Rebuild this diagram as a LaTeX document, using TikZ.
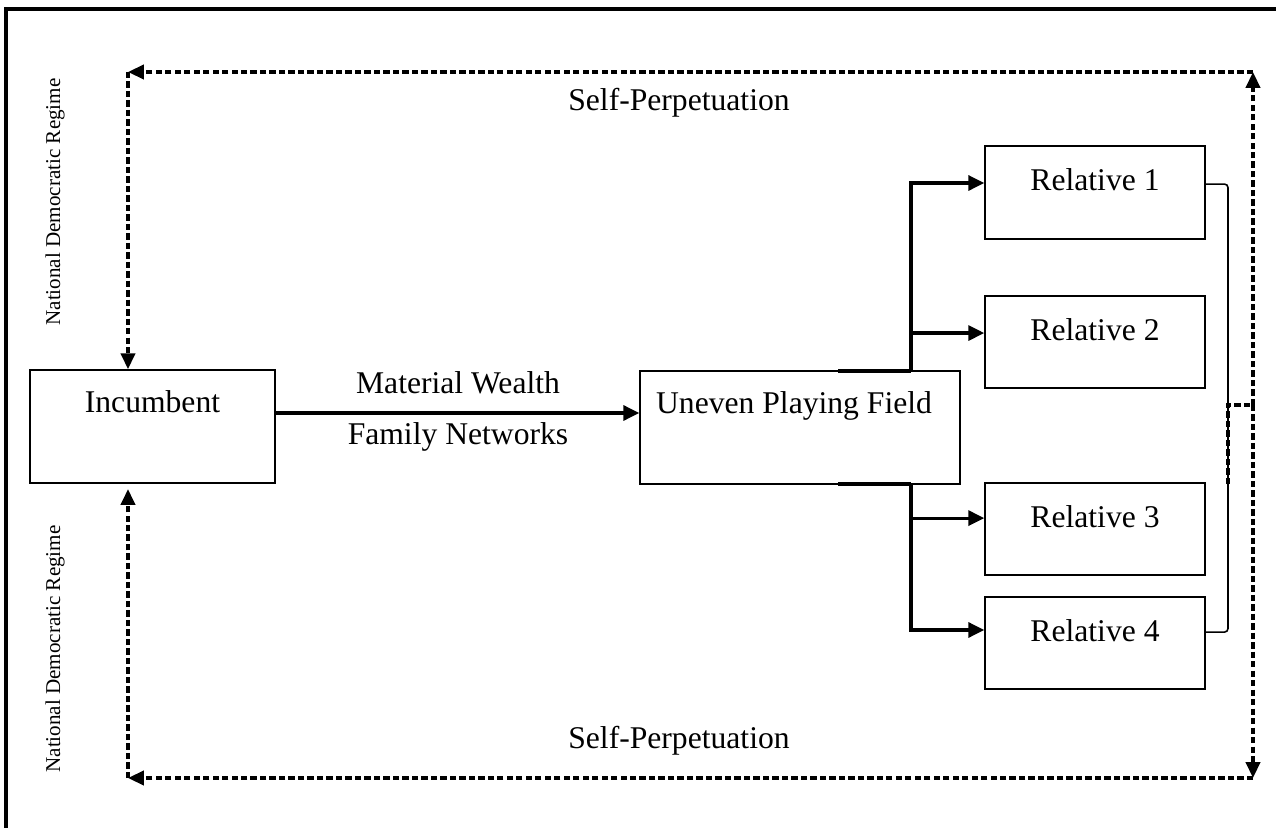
\documentclass[tikz,border=0pt]{standalone}
\usepackage{fontspec}
\setmainfont{Liberation Serif}
\usetikzlibrary{positioning,arrows.meta}

\begin{document}
\begin{tikzpicture}[
    x=0.02cm, y=-0.02cm,
    box/.style={draw, line width=0.9pt, inner sep=0pt}, % caixas
    relbox/.style={box, minimum width=4.4cm, minimum height=1.85cm}, % parentes
    txt/.style={inner sep=0pt, font=\fontsize{18}{22}\selectfont}, % textos
    side/.style={inner sep=0pt, font=\fontsize{12}{14}\selectfont, rotate=90}, % texto lateral
    flow/.style={line width=1.8pt, -{Triangle[length=9pt,width=8.5pt]}}, % setas cheias
    feedback/.style={line width=2pt, dash pattern=on 3.6pt off 1.8pt, -{Triangle[length=9pt,width=8pt]}}, % setas tracejadas
    bracket/.style={line width=0.9pt, rounded corners=2pt}
]
\useasboundingbox (0,0) rectangle (1276,828);
\draw[line width=2pt] (6,828) -- (6,9) -- (1276,9);

% caixas
\node[box, minimum width=4.9cm, minimum height=2.26cm] (inc) at (152.5,426.5) {};
\node[box, minimum width=6.4cm, minimum height=2.26cm] (upf) at (800,427.5) {};
\node[relbox] (r1) at (1095,192.5) {};
\node[relbox] (r2) at (1095,342) {};
\node[relbox] (r3) at (1095,529) {};
\node[relbox] (r4) at (1095,643) {};

\node[txt, below=12pt of inc.north] (inc text) {Incumbent};
\node[txt, below=12pt of upf.north, xshift=-3.4pt] (upf text) {Uneven Playing Field};
\node[txt, below=13pt of r1.north] (r1 text) {Relative 1};
\node[txt, below=13pt of r2.north] (r2 text) {Relative 2};
\node[txt, below=13pt of r3.north] (r3 text) {Relative 3};
\node[txt, below=13pt of r4.north] (r4 text) {Relative 4};

% seta principal
\coordinate (wire) at (458,413);
\draw[flow] (inc.east |- wire) -- (upf.west |- wire);
\node[txt] (wealth) at (458,383) {Material Wealth};
\node[txt] (networks) at (458,437) {Family Networks};

% ramos para os parentes
\coordinate (tap top) at (838,371);
\coordinate (fork top) at (911,371);
\coordinate (tap bot) at (838,484);
\coordinate (fork bot) at (911,484);
\draw[line width=1.8pt] (tap top) -- (fork top);
\draw[line width=1.8pt] (tap bot) -- (fork bot);
\draw[flow] (fork top) |- ([yshift=5.4pt]r1.west);
\draw[flow] (fork top) |- ([yshift=5.1pt]r2.west);
\draw[flow] (fork bot) |- ([yshift=6.2pt]r3.west);
\draw[flow] (fork bot) |- ([yshift=7.4pt]r4.west);

% chave dos parentes
\coordinate (brace) at (1228,405);
\coordinate (brace low) at (1228,484);
\coordinate (loop mid) at (1253,405);
\draw[bracket] ([yshift=4.8pt]r1.east) -| (brace) |- ([yshift=6.2pt]r4.east);
\draw[feedback, -] (brace low) -- (brace) -- (loop mid);

% ciclos tracejados
\coordinate (ne) at (1253,72);
\coordinate (nw) at (128,72);
\coordinate (se) at (1253,778);
\coordinate (sw) at (128,778);
\draw[feedback] (loop mid) -- (ne);
\draw[feedback] (ne) -- (nw);
\draw[feedback] (nw) -- (inc.north -| nw);
\draw[feedback] (loop mid) -- (se);
\draw[feedback] (se) -- (sw);
\draw[feedback] (sw) -- ([yshift=-3pt]inc.south -| sw);

\node[txt] (self top) at (679,103) {Self-Perpetuation};
\node[txt] (self bot) at (679,741) {Self-Perpetuation};
\node[side] (regime top) at (55,202) {National Democratic Regime};
\node[side] (regime bot) at (55,649) {National Democratic Regime};
\end{tikzpicture}
\end{document}
